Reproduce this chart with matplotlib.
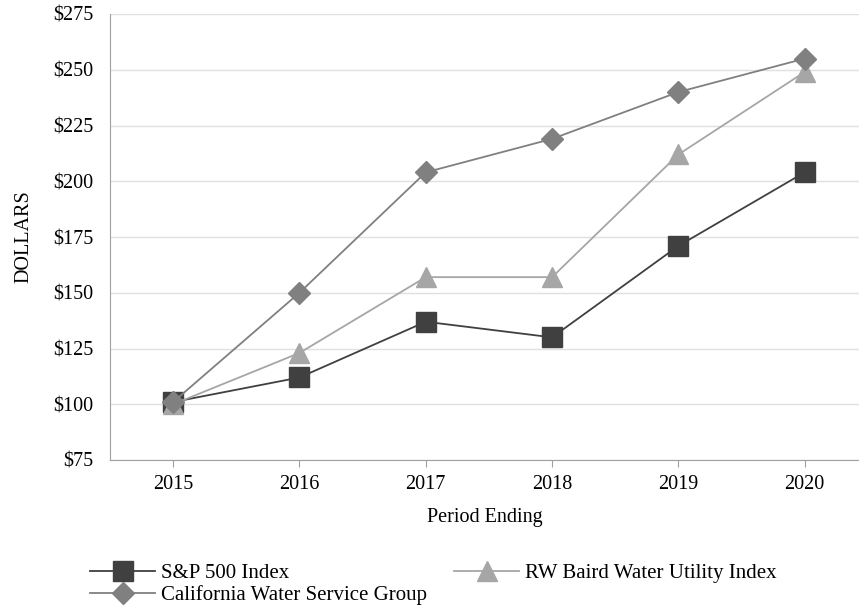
import matplotlib
matplotlib.use("Agg")
import matplotlib.pyplot as plt

years = [2015, 2016, 2017, 2018, 2019, 2020]
sp500 = [101, 112, 137, 130, 171, 204]
baird = [100, 123, 157, 157, 212, 249]
calwater = [101, 150, 204, 219, 240, 255]
yticks = [75, 100, 125, 150, 175, 200, 225, 250, 275]

plt.rcParams['font.family'] = ['Liberation Serif', 'DejaVu Serif']

fig = plt.figure(figsize=(8.59, 6.08), dpi=100)
ax = fig.add_axes([110/859, 1 - 460/608, 749/859, 446/608])

l1, = ax.plot(years, sp500, color='#404040', lw=1.3, marker='s', ms=15, label='S&P 500 Index', zorder=3)
l2, = ax.plot(years, baird, color='#a6a6a6', lw=1.3, marker='^', ms=15, label='RW Baird Water Utility Index', zorder=4)
l3, = ax.plot(years, calwater, color='#808080', lw=1.3, marker='D', ms=11, label='California Water Service Group', zorder=5)

ax.set_xlim(2014.5, 2020.43)
ax.set_ylim(75, 275)
ax.set_yticks(yticks)
ax.set_yticklabels(['$%d' % v for v in yticks])
ax.set_xticks(years)
ax.grid(axis='y', color='#e0e0e0', lw=1)
ax.set_axisbelow(True)
for s in ['top', 'right']:
    ax.spines[s].set_visible(False)
for s in ['left', 'bottom']:
    ax.spines[s].set_color('#a0a0a0')
ax.tick_params(axis='y', length=0, labelsize=14.5, pad=12)
ax.tick_params(axis='x', length=5, color='#a0a0a0', labelsize=14.5, pad=6)
ax.set_xlabel('Period Ending', fontsize=14.5, labelpad=10)
ax.set_ylabel('DOLLARS', fontsize=14.5, labelpad=14)

# column-wise fill, so order to read row by row
fig.legend([l1, l3, l2], [l1.get_label(), l3.get_label(), l2.get_label()],
           loc='upper left', bbox_to_anchor=(80/859, 1 - 553/608), ncol=2, frameon=False,
           fontsize=15, handlelength=3.1, columnspacing=1.3, labelspacing=0.12,
           handletextpad=0.3, borderpad=0)

fig.savefig('out.png', dpi=100)
